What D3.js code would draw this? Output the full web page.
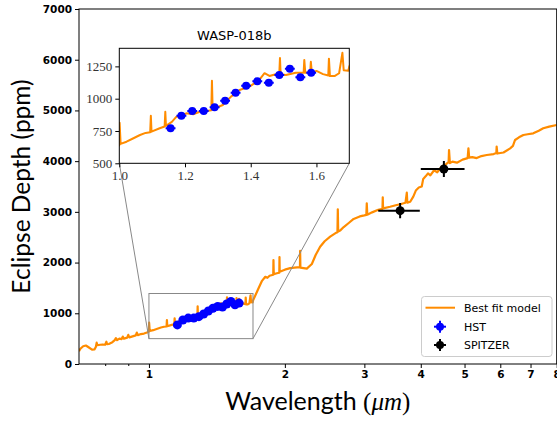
<!DOCTYPE html>
<html>
<head>
<meta charset="utf-8">
<script src="https://cdn.jsdelivr.net/npm/d3@7"></script>
<style>
body { margin: 0; background: #fff; }
</style>
</head>
<body>
<script>
// model spectrum (wavelength in micron, eclipse depth in ppm)
var modelWave = [0.700, 0.705, 0.715, 0.725, 0.735, 0.748, 0.758, 0.763, 0.766, 0.769, 0.780, 0.790, 0.800, 0.805, 0.808,
    0.815, 0.830, 0.840, 0.845, 0.850, 0.860, 0.870, 0.875, 0.880, 0.895, 0.900, 0.905, 0.920, 0.935, 0.940, 0.945,
    0.960, 0.975, 0.990, 1.000, 1.001, 1.004, 1.022, 1.040, 1.063, 1.080, 1.094, 1.096, 1.098, 1.123, 1.138, 1.140,
    1.142, 1.160, 1.174, 1.190, 1.204, 1.225, 1.245, 1.265, 1.280, 1.282, 1.284, 1.315, 1.340, 1.366, 1.396, 1.426,
    1.442, 1.457, 1.487, 1.489, 1.491, 1.507, 1.537, 1.561, 1.563, 1.566, 1.581, 1.583, 1.586, 1.600, 1.620, 1.636,
    1.638, 1.641, 1.655, 1.669, 1.679, 1.683, 1.697, 1.700, 1.720, 1.750, 1.780, 1.810, 1.830, 1.850, 1.885, 1.887,
    1.890, 1.920, 1.944, 1.946, 1.948, 2.000, 2.055, 2.100, 2.160, 2.162, 2.165, 2.200, 2.237, 2.295, 2.340, 2.394,
    2.450, 2.520, 2.600, 2.615, 2.620, 2.625, 2.650, 2.700, 2.770, 2.840, 2.930, 3.000, 3.030, 3.037, 3.045, 3.120,
    3.220, 3.290, 3.295, 3.300, 3.420, 3.520, 3.600, 3.700, 3.725, 3.735, 3.790, 3.850, 3.900, 3.960, 4.020, 4.050,
    4.100, 4.150, 4.200, 4.280, 4.350, 4.450, 4.550, 4.610, 4.620, 4.640, 4.700, 4.810, 4.950, 5.080, 5.100, 5.120,
    5.200, 5.320, 5.450, 5.600, 5.800, 5.880, 5.890, 5.910, 6.100, 6.310, 6.400, 6.470, 6.600, 6.750, 6.900, 7.100,
    7.300, 7.470, 7.700, 8.000];
var modelDepth = [250, 300, 350, 365, 330, 285, 290, 340, 420, 370, 380, 385, 380, 440, 390,
    395, 430, 470, 510, 470, 500, 490, 540, 500, 520, 575, 525, 545, 565, 620, 570,
    590, 600, 620, 640, 814, 650, 667, 690, 719, 735, 740, 868, 745, 771, 785, 899,
    790, 820, 861, 870, 887, 880, 899, 905, 910, 1139, 918, 951, 1016, 1067, 1093, 1145,
    1197, 1176, 1197, 1315, 1190, 1183, 1201, 1200, 1300, 1200, 1205, 1286, 1200, 1215, 1190, 1180,
    1310, 1175, 1175, 1197, 1355, 1220, 1217, 1250, 1350, 1500, 1640, 1720, 1700, 1740, 1760, 2050,
    1770, 1790, 1800, 2110, 1820, 1860, 1890, 1900, 1910, 2230, 1900, 1890, 1880, 1972, 2150, 2313,
    2420, 2510, 2590, 2600, 3050, 2610, 2630, 2700, 2780, 2860, 2910, 2930, 2940, 3170, 2945, 2990,
    3040, 3060, 3287, 3070, 3100, 3130, 3150, 3180, 3378, 3180, 3200, 3300, 3420, 3480, 3500, 3650,
    3700, 3760, 3720, 3820, 3780, 3890, 3940, 3980, 4220, 3960, 3990, 3970, 4030, 4060, 4253, 4070,
    4080, 4060, 4100, 4121, 4140, 4160, 4286, 4150, 4170, 4253, 4300, 4417, 4470, 4516, 4530, 4549,
    4600, 4648, 4680, 4713];

// HST points
var hstWave = [1.156, 1.189, 1.222, 1.257, 1.290, 1.322, 1.354, 1.386, 1.420, 1.455, 1.487, 1.519, 1.551, 1.584];
var hstDepth = [771, 868, 905, 905, 933, 985, 1046, 1100, 1135, 1124, 1183, 1232, 1166, 1201];
var hstWaveErr = [0.015, 0.015, 0.015, 0.015, 0.015, 0.015, 0.015, 0.015, 0.015, 0.015, 0.015, 0.015, 0.015, 0.015];
var hstDepthErr = [20, 20, 20, 20, 20, 20, 20, 20, 20, 20, 20, 20, 20, 20];

// Spitzer points
var spitzerWave = [3.6, 4.5];
var spitzerDepth = [3023, 3845];
var spitzerWaveErr = [0.38, 0.5];
var spitzerDepthErr = [150, 160];

var xTicks = [1, 2, 3, 4, 5, 6, 7, 8];
var xMinorTicks = [0.8, 0.9];
var yTicks = [0, 1000, 2000, 3000, 4000, 5000, 6000, 7000];
var insetXTicks = [1.0, 1.2, 1.4, 1.6];
var insetYTicks = [500, 750, 1000, 1250];

var orange = "#ff8c00";

var model = modelWave.map(function (w, i) { return {w: w, d: modelDepth[i]}; });
var hst = hstWave.map(function (w, i) { return {w: w, d: hstDepth[i], we: hstWaveErr[i], de: hstDepthErr[i]}; });
var spitzer = spitzerWave.map(function (w, i) { return {w: w, d: spitzerDepth[i], we: spitzerWaveErr[i], de: spitzerDepthErr[i]}; });

var svg = d3.select("body")
    .append("svg")
    .attr("width", 557)
    .attr("height", 421);

var pLeft = 79, pRight = 556.7, pTop = 9, pBottom = 364;

var xScale = d3.scaleLog().domain([0.7, 8]).range([pLeft, pRight]),
    yScale = d3.scaleLinear().domain([0, 7000]).range([pBottom, pTop]);

svg.append("clipPath").attr("id", "mainclip")
    .append("rect").attr("x", pLeft).attr("y", pTop).attr("width", pRight - pLeft).attr("height", pBottom - pTop);

var line = d3.line()
    .x(function (d) { return xScale(d.w); })
    .y(function (d) { return yScale(d.d); });

var plot = svg.append("g").attr("clip-path", "url(#mainclip)");

plot.append("path")
    .datum(model)
    .attr("d", line)
    .attr("fill", "none")
    .attr("stroke", orange)
    .attr("stroke-width", 2.2)
    .attr("stroke-linejoin", "round");

function errorbars(g, data, xs, ys, color, r) {
    var pts = g.selectAll(null).data(data).enter().append("g");
    pts.append("line")
        .attr("x1", function (d) { return xs(d.w - d.we); })
        .attr("x2", function (d) { return xs(d.w + d.we); })
        .attr("y1", function (d) { return ys(d.d); })
        .attr("y2", function (d) { return ys(d.d); })
        .attr("stroke", color).attr("stroke-width", 2);
    pts.append("line")
        .attr("x1", function (d) { return xs(d.w); })
        .attr("x2", function (d) { return xs(d.w); })
        .attr("y1", function (d) { return ys(d.d - d.de); })
        .attr("y2", function (d) { return ys(d.d + d.de); })
        .attr("stroke", color).attr("stroke-width", 2);
    pts.append("circle")
        .attr("cx", function (d) { return xs(d.w); })
        .attr("cy", function (d) { return ys(d.d); })
        .attr("r", r)
        .attr("fill", color);
}

errorbars(plot, hst, xScale, yScale, "#0000ff", 4.5);
errorbars(plot, spitzer, xScale, yScale, "#000000", 4.5);

// zoom rectangle on the main plot
svg.append("rect")
    .attr("x", xScale(1.0)).attr("y", yScale(1390))
    .attr("width", xScale(1.7) - xScale(1.0))
    .attr("height", yScale(500) - yScale(1390))
    .attr("fill", "none").attr("stroke", "#888").attr("stroke-width", 1);

// axes
var tickFont = function (g) {
    g.selectAll("text")
        .attr("font-family", "DejaVu Sans")
        .attr("font-weight", "bold")
        .attr("font-size", 10.5)
        .attr("fill", "#000");
    g.selectAll("line").attr("stroke", "#000");
    g.select(".domain").remove();
};

svg.append("g")
    .attr("transform", "translate(0," + pBottom + ")")
    .call(d3.axisBottom(xScale).tickValues(xTicks).tickFormat(d3.format("d")).tickSize(4).tickPadding(3))
    .call(tickFont);

svg.append("g")
    .attr("transform", "translate(0," + pBottom + ")")
    .call(d3.axisBottom(xScale).tickValues(xMinorTicks).tickFormat("").tickSize(2))
    .call(tickFont);

svg.append("g")
    .attr("transform", "translate(" + pLeft + ",0)")
    .call(d3.axisLeft(yScale).tickValues(yTicks).tickFormat(d3.format("d")).tickSize(4).tickPadding(3))
    .call(tickFont);

svg.append("rect")
    .attr("x", pLeft).attr("y", pTop)
    .attr("width", pRight - pLeft).attr("height", pBottom - pTop)
    .attr("fill", "none").attr("stroke", "#000").attr("stroke-width", 1);

// axis labels
svg.append("text")
    .attr("transform", "translate(30," + ((pTop + pBottom) / 2) + ") rotate(-90)")
    .attr("text-anchor", "middle")
    .attr("font-family", "Lato")
    .attr("font-size", 24.5)
    .text("Eclipse Depth (ppm)");

var xl = svg.append("text")
    .attr("x", (pLeft + pRight) / 2)
    .attr("y", 410)
    .attr("text-anchor", "middle")
    .attr("font-family", "Lato")
    .attr("font-size", 25);
xl.append("tspan").text("Wavelength ");
xl.append("tspan").attr("font-family", "Liberation Serif").text("(");
xl.append("tspan").attr("font-family", "Liberation Serif").attr("font-style", "italic").text("\u03bcm");
xl.append("tspan").attr("font-family", "Liberation Serif").text(")");

// inset
var iLeft = 119.3, iRight = 349.3, iTop = 48.3, iBottom = 163.3;
var ix = d3.scaleLinear().domain([1.0, 1.7]).range([iLeft, iRight]),
    iy = d3.scaleLinear().domain([500, 1390]).range([iBottom, iTop]);

// connector lines
svg.append("line")
    .attr("x1", iLeft).attr("y1", iBottom)
    .attr("x2", xScale(1.0)).attr("y2", yScale(500))
    .attr("stroke", "#888").attr("stroke-width", 1);
svg.append("line")
    .attr("x1", iRight).attr("y1", iBottom)
    .attr("x2", xScale(1.7)).attr("y2", yScale(500))
    .attr("stroke", "#888").attr("stroke-width", 1);

svg.append("rect")
    .attr("x", iLeft).attr("y", iTop).attr("width", iRight - iLeft).attr("height", iBottom - iTop)
    .attr("fill", "#fff");

svg.append("clipPath").attr("id", "insetclip")
    .append("rect").attr("x", iLeft).attr("y", iTop).attr("width", iRight - iLeft).attr("height", iBottom - iTop);

var inset = svg.append("g").attr("clip-path", "url(#insetclip)");

var iline = d3.line()
    .x(function (d) { return ix(d.w); })
    .y(function (d) { return iy(d.d); });

inset.append("path")
    .datum(model)
    .attr("d", iline)
    .attr("fill", "none")
    .attr("stroke", orange)
    .attr("stroke-width", 2)
    .attr("stroke-linejoin", "round");

errorbars(inset, hst, ix, iy, "#0000ff", 4);

var insetFont = function (g) {
    g.selectAll("text")
        .attr("font-family", "Liberation Serif")
        .attr("font-size", 13)
        .attr("fill", "#333");
    g.selectAll("line").attr("stroke", "#000");
    g.select(".domain").remove();
};

svg.append("g")
    .attr("transform", "translate(0," + iBottom + ")")
    .call(d3.axisBottom(ix).tickValues(insetXTicks).tickFormat(d3.format(".1f")).tickSize(4).tickPadding(3))
    .call(insetFont);

svg.append("g")
    .attr("transform", "translate(" + iLeft + ",0)")
    .call(d3.axisLeft(iy).tickValues(insetYTicks).tickFormat(d3.format("d")).tickSize(4).tickPadding(3))
    .call(insetFont);

svg.append("rect")
    .attr("x", iLeft).attr("y", iTop).attr("width", iRight - iLeft).attr("height", iBottom - iTop)
    .attr("fill", "none").attr("stroke", "#000").attr("stroke-width", 1);

svg.append("text")
    .attr("x", (iLeft + iRight) / 2)
    .attr("y", 40)
    .attr("text-anchor", "middle")
    .attr("font-family", "DejaVu Sans")
    .attr("font-size", 13)
    .text("WASP-018b");

// legend
var legend = svg.append("g");
legend.append("rect")
    .attr("x", 421.5).attr("y", 296.5).attr("width", 130.5).attr("height", 60)
    .attr("rx", 3)
    .attr("fill", "#fff").attr("fill-opacity", 0.8)
    .attr("stroke", "#ccc");
legend.append("line")
    .attr("x1", 425.5).attr("x2", 455).attr("y1", 307.7).attr("y2", 307.7)
    .attr("stroke", orange).attr("stroke-width", 2);

var legendItems = [{label: "HST", color: "#0000ff", y: 326.7}, {label: "SPITZER", color: "#000", y: 345}];
legendItems.forEach(function (it) {
    legend.append("line").attr("x1", 434).attr("x2", 446).attr("y1", it.y).attr("y2", it.y)
        .attr("stroke", it.color).attr("stroke-width", 2);
    legend.append("line").attr("x1", 440).attr("x2", 440).attr("y1", it.y - 6).attr("y2", it.y + 6)
        .attr("stroke", it.color).attr("stroke-width", 2);
    legend.append("circle").attr("cx", 440).attr("cy", it.y).attr("r", 4).attr("fill", it.color);
});

var legendText = [{t: "Best fit model", y: 307.7}, {t: "HST", y: 326.7}, {t: "SPITZER", y: 345}];
legend.selectAll(null).data(legendText).enter().append("text")
    .attr("x", 464)
    .attr("y", function (d) { return d.y + 4; })
    .attr("font-family", "DejaVu Sans")
    .attr("font-size", 11)
    .text(function (d) { return d.t; });
</script>
</body>
</html>
